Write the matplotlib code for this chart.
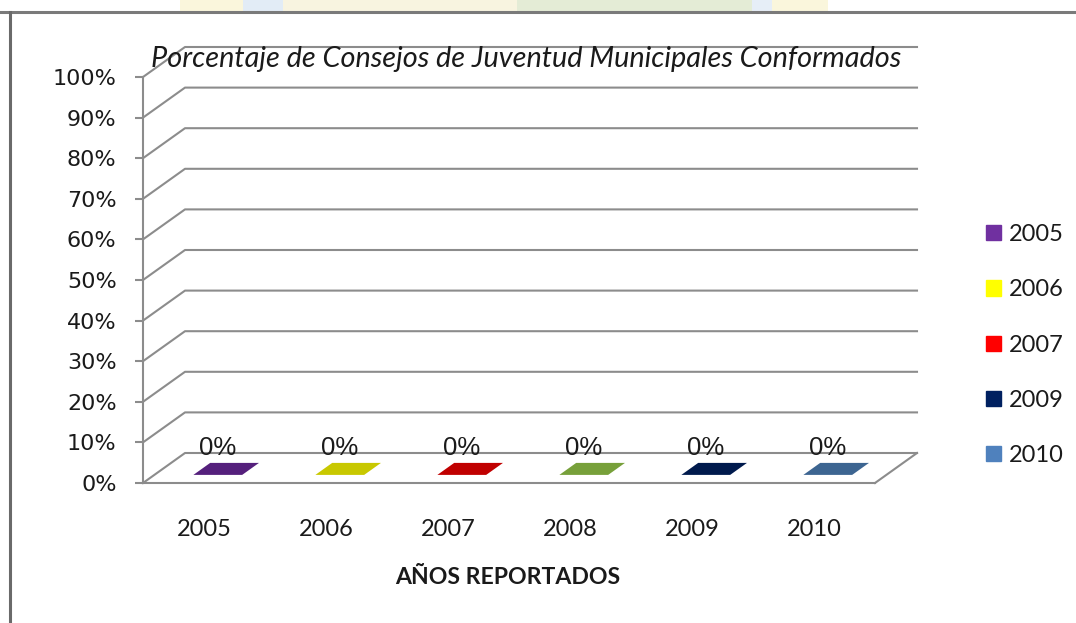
import matplotlib
matplotlib.use("Agg")
import matplotlib.pyplot as plt
from matplotlib.patches import Patch, Polygon, Rectangle
from matplotlib.ticker import PercentFormatter

# ── data ──────────────────────────────────────────────
years = ["2005", "2006", "2007", "2008", "2009", "2010"]
values = [0.0, 0.0, 0.0, 0.0, 0.0, 0.0]
bar_colors = ["#55207c", "#c8c800", "#c00000", "#77a03a", "#001a4d", "#3d6591"]

legend_labels = ["2005", "2006", "2007", "2009", "2010"]
legend_colors = ["#7030a0", "#ffff00", "#ff0000", "#002060", "#4f81bd"]

yticks = [i / 10 for i in range(11)]

title = "Porcentaje de Consejos de Juventud Municipales Conformados"
xlabel = "AÑOS REPORTADOS"

# ── look ──────────────────────────────────────────────
W, H = 1076, 623
GRID = "#8c8c8c"
TXT = "#1a1a1a"
DX = 42 / 122     # depth offset, in category units
DY = 30 / 406     # depth offset, in value units
Z0, Z1 = 0.27, 0.67   # bar depth span (fraction of floor depth)
A, B = 0.32, 0.72     # bar span inside a category slot

fig = plt.figure(figsize=(W / 100, H / 100), dpi=100)
fig.patch.set_facecolor("white")

# faded picture strip above the pasted chart
strip = [(180, 63, "#faf6dc"), (243, 40, "#e2ecf6"), (283, 234, "#f8f4e0"),
         (517, 235, "#e4ecd6"), (752, 20, "#e6eef7"), (772, 56, "#faf6dc")]
for x0, w, c in strip:
    fig.patches.append(Rectangle((x0 / W, 1 - 11 / H), w / W, 11 / H,
                                 transform=fig.transFigure, facecolor=c,
                                 edgecolor="none"))
fig.add_artist(plt.Line2D([0, 1], [1 - 12 / H, 1 - 12 / H],
                          transform=fig.transFigure, color="#7a7a7a", lw=2.2))
fig.add_artist(plt.Line2D([10 / W, 10 / W], [0, 1 - 12 / H],
                          transform=fig.transFigure, color="#6a6a6a", lw=2.2))

ax = fig.add_axes([143 / W, 1 - 483 / H, 732 / W, 406 / H])
ax.set_xlim(0, len(years))
ax.set_ylim(0, 1)
ax.patch.set_alpha(0)

# walls: side diagonals + back-wall gridlines
for v in yticks:
    ax.plot([0, DX, len(years) + DX], [v, v + DY, v + DY],
            color=GRID, lw=1.5, clip_on=False, zorder=1)
# right edge of the floor
ax.plot([len(years), len(years) + DX], [0, DY], color=GRID, lw=1.5,
        clip_on=False, zorder=1)

for s in ["top", "right"]:
    ax.spines[s].set_visible(False)
for s in ["left", "bottom"]:
    ax.spines[s].set_color(GRID)
    ax.spines[s].set_linewidth(1.5)

ax.set_yticks(yticks)
ax.yaxis.set_major_formatter(PercentFormatter(1.0, decimals=0))
ax.tick_params(axis="y", length=6, width=1.5, color=GRID, pad=13,
               labelsize=16, labelcolor=TXT, labelfontfamily="DejaVu Sans")

ax.set_xticks([i + 0.5 for i in range(len(years))])
ax.set_xticklabels(years, family="Lato", fontsize=17, color=TXT)
ax.tick_params(axis="x", length=0, pad=26)

# bars drawn as flat-projected 3D boxes
for i, (v, c) in enumerate(zip(values, bar_colors)):
    x0, x1 = i + A, i + B
    f0, f1 = Z0 * DX, Z1 * DX
    g0, g1 = Z0 * DY, Z1 * DY
    # front face
    ax.add_patch(Polygon([(x0 + f0, g0), (x1 + f0, g0), (x1 + f0, v + g0),
                          (x0 + f0, v + g0)], closed=True, facecolor=c,
                         edgecolor="none", zorder=3, clip_on=False))
    # side face
    ax.add_patch(Polygon([(x1 + f0, g0), (x1 + f1, g1), (x1 + f1, v + g1),
                          (x1 + f0, v + g0)], closed=True, facecolor=c,
                         edgecolor="none", zorder=3, clip_on=False))
    # top face
    ax.add_patch(Polygon([(x0 + f0, v + g0), (x1 + f0, v + g0),
                          (x1 + f1, v + g1), (x0 + f1, v + g1)], closed=True,
                         facecolor=c, edgecolor="none", zorder=3, clip_on=False))
    ax.annotate(f"{v:.0%}", xy=((x0 + x1) / 2 + f0, v + g1), xytext=(0, 11),
                textcoords="offset points", ha="center", va="center",
                family="Liberation Sans", fontsize=18.5, color=TXT, zorder=4)

fig.text(526 / W, 1 - 59 / H, title, ha="center", va="center",
         family="Lato", style="italic", fontsize=20.8, color=TXT)
fig.text(508 / W, 1 - 578 / H, xlabel, ha="center", va="center",
         family="Lato", weight="bold", fontsize=16.6, color=TXT)

handles = [Patch(facecolor=c, edgecolor=c) for c in legend_colors]
fig.legend(handles, legend_labels, loc="center left",
           bbox_to_anchor=(986 / W, 1 - 345 / H), frameon=False,
           prop={"family": "Lato", "size": 17}, labelcolor=TXT,
           handlelength=0.62, handleheight=0.62, handletextpad=0.35,
           labelspacing=1.45, borderpad=0, borderaxespad=0)

fig.savefig("out.png", dpi=100, facecolor="white")
